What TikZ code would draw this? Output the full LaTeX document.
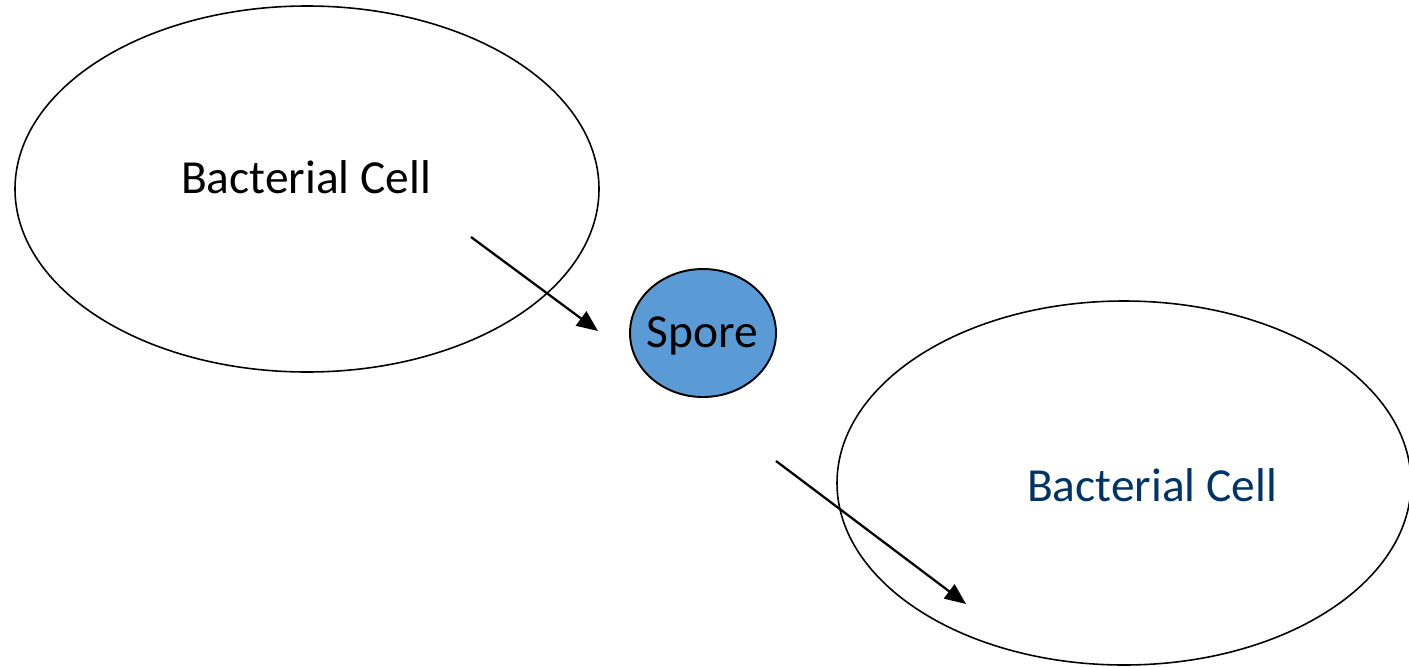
\documentclass[tikz,border=0pt]{standalone}
\usepackage{fontspec}
\setmainfont{Carlito}
\usetikzlibrary{shapes.geometric,arrows.meta}
\definecolor{sporeblue}{RGB}{91,155,213}
\definecolor{navytext}{RGB}{0,51,102}
\tikzset{
  cell/.style={draw=black, line width=0.9pt, ellipse, inner sep=0pt},
  lbl/.style={font=\fontsize{27}{32}\selectfont, inner sep=0pt},
  flow/.style={draw=black, line width=1.3pt, -{Triangle[length=12pt,width=10pt]}}
}
\begin{document}
\begin{tikzpicture}[x=0.02cm,y=-0.02cm]
\useasboundingbox (0,0) rectangle (1409,666);
\clip (0,0) rectangle (1409,666);
\node[cell, minimum width=584*0.02cm, minimum height=366*0.02cm] (cellA) at (307,189) {};
\node[cell, line width=1.1pt, fill=sporeblue, minimum width=146*0.02cm, minimum height=128*0.02cm] (spore) at (703,333) {};
\node[cell, minimum width=574*0.02cm, minimum height=364*0.02cm] (cellB) at (1124,483) {};
\node[lbl, text=black] (txtA) at (306,177) {Bacterial Cell};
\node[lbl, text=black] (txtS) at (702,336) {Spore};
\node[lbl, text=navytext] (txtB) at (1152,485) {Bacterial Cell};
\coordinate (a1) at (471,237);
\coordinate (a2) at (598,331);
\coordinate (b1) at (776,461);
\coordinate (b2) at (966,604);
\draw[flow] (a1) -- (a2);
\draw[flow] (b1) -- (b2);
\end{tikzpicture}
\end{document}
